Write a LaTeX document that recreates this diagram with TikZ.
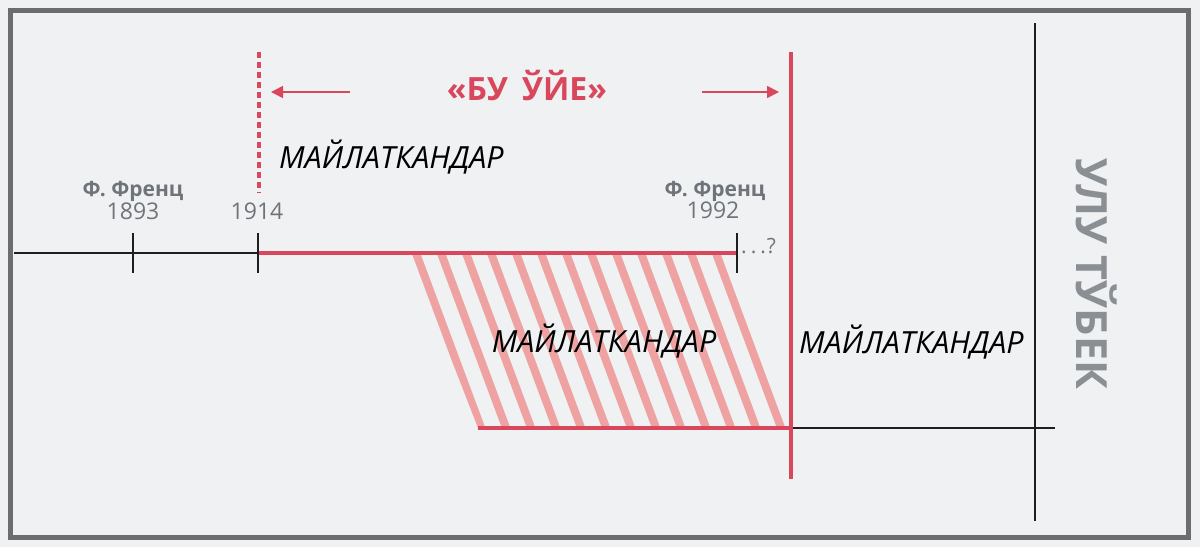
\documentclass[tikz,border=0pt]{standalone}
\usepackage{fontspec}
\setmainfont{Open Sans}
\usetikzlibrary{arrows.meta}
\definecolor{bg}{HTML}{F0F1F3}
\definecolor{frame}{HTML}{6B6D6E}
\definecolor{myred}{HTML}{D8475B}
\definecolor{pink}{HTML}{EEA3A2}
\definecolor{txtgray}{HTML}{6E7479}
\definecolor{bigg}{HTML}{8A8F94}
\definecolor{ink}{HTML}{1E1E1E}
\tikzset{
  blackline/.style={draw=ink, line width=2.6pt},
  redline/.style={draw=myred, line width=4pt},
  tick/.style={draw=ink, line width=2.2pt},
  hatch/.style={draw=pink, line width=8pt},
  redarrow/.style={draw=myred, line width=1.6pt, -{Triangle[length=12pt,width=12pt]}},
  lbl/.style={inner sep=0pt, font=\fontsize{30.5}{32}\selectfont\itshape, text=black},
  namelbl/.style={inner sep=0pt, font=\fontsize{21}{23}\selectfont\bfseries, text=txtgray},
  yearlbl/.style={inner sep=0pt, font=\fontsize{23}{25}\selectfont, text=txtgray},
}
\begin{document}
\begin{tikzpicture}[x=1pt,y=-1pt]
\useasboundingbox (0,0) rectangle (1200,547);
\fill[bg] (0,0) rectangle (1200,547);
\draw[frame, line width=5pt, fill=bg] (10.5,10.5) rectangle (1188.5,537.5);

% hatched parallelogram
\begin{scope}
  \clip (410,253) -- (737,253) -- (791,428) -- (478,428) -- cycle;
  \foreach \k in {-3,...,16} {
    \draw[hatch] ({413+25*\k},245) -- ({413+25*\k+71.1},436);
  }
\end{scope}

% coordinates
\coordinate (tlL) at (14,253);
\coordinate (t1893) at (133,253);
\coordinate (t1914) at (258,253);
\coordinate (t1992) at (737,253);
\coordinate (bL) at (478,428);
\coordinate (bM) at (791,428);
\coordinate (bR) at (1055,428);

% timeline
\draw[blackline] (tlL) -- (t1914);
\draw[redline] (t1914) -- (t1992);
\draw[redline] (bL) -- (bM);
\draw[blackline] (bM) -- (bR);

% ticks
\draw[tick] (133,233) -- (133,273);
\draw[tick] (258,233) -- (258,273);
\draw[tick] (737,233) -- (737,273);

% verticals
\coordinate (dTop) at (259,52);
\coordinate (dBot) at (259,193);
\draw[draw=myred, line width=4pt, dash pattern=on 6pt off 4pt] (dTop) -- (dBot);
\coordinate (rTop) at (791,52);
\coordinate (rBot) at (791,479);
\draw[redline] (rTop) -- (rBot);
\coordinate (kTop) at (1035,23);
\coordinate (kBot) at (1035,521);
\draw[blackline] (kTop) -- (kBot);

% arrows
\coordinate (aL1) at (350,92);
\coordinate (aL2) at (271,92);
\coordinate (aR1) at (702,92);
\coordinate (aR2) at (779,92);
\draw[redarrow] (aL1) -- (aL2);
\draw[redarrow] (aR1) -- (aR2);

% texts
\node[anchor=base, inner sep=0pt, font=\fontsize{32}{36}\selectfont\bfseries, text=myred] (title) at (527,100) {«БУ\hspace{6pt} ЎЙЕ»};
\node[lbl, anchor=base west] (m1) at (279,168) {МАЙЛАТКАНДАР};
\node[lbl, anchor=base] (m2) at (604,352) {МАЙЛАТКАНДАР};
\node[lbl, anchor=base west] (m3) at (799,353) {МАЙЛАТКАНДАР};

\node[namelbl, anchor=base] (n1) at (133,196) {Ф. Френц};
\node[yearlbl, anchor=base] (y1) at (133,219) {1893};
\node[yearlbl, anchor=base] (y2) at (257,219) {1914};
\node[namelbl, anchor=base] (n2) at (715,196) {Ф. Френц};
\node[yearlbl, anchor=base] (y3) at (713,218) {1992};
\node[inner sep=0pt, font=\fontsize{21}{23}\selectfont, text=txtgray, anchor=base west] (q) at (741,253) {.\hspace{4pt}.\hspace{4pt}.\hspace{1pt}?};

\node[rotate=-90, inner sep=0pt, font=\fontsize{43}{50}\selectfont\bfseries, text=bigg] (ulu) at (1097,274) {УЛУ ТЎБЕК};
\end{tikzpicture}
\end{document}
